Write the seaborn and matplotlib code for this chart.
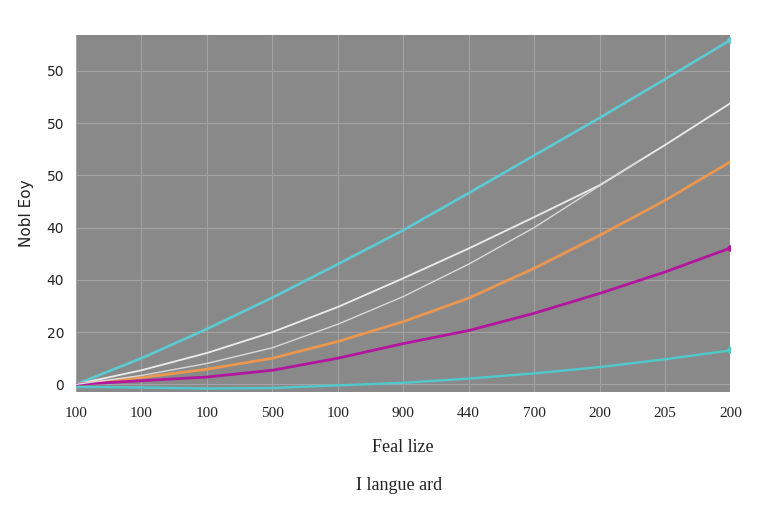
import matplotlib
matplotlib.use('Agg')
import matplotlib.pyplot as plt
import seaborn as sns
import pandas as pd

# values, in tick units
steps = [0, 1, 2, 3, 4, 5, 6, 7, 8, 9, 10]
teal_top = [0.0, 0.5, 1.06, 1.66, 2.3, 2.95, 3.66, 4.38, 5.1, 5.84, 6.59]
white_upper = [0.0, 0.27, 0.6, 1.0, 1.48, 2.03, 2.6, 3.2, 3.81, 4.58, 5.38]
orange = [0.0, 0.13, 0.29, 0.5, 0.82, 1.2, 1.65, 2.22, 2.85, 3.52, 4.26]
magenta = [0.0, 0.07, 0.14, 0.27, 0.5, 0.78, 1.03, 1.36, 1.74, 2.15, 2.61]
teal_low = [-0.05, -0.06, -0.08, -0.07, -0.02, 0.03, 0.11, 0.21, 0.33, 0.48, 0.65]

# the thin white line stops short of the right edge
short_steps = [0, 1, 2, 3, 4, 5, 6, 7, 8, 8.6]
white_lower = [0.0, 0.17, 0.4, 0.7, 1.15, 1.68, 2.3, 3.0, 3.8, 4.27]

x_labels = ["100", "100", "100", "500", "100", "900", "440", "700", "200", "205", "200"]
y_labels = ["0", "20", "40", "40", "50", "50", "50"]

rows = []
for name, ys in [("teal_top", teal_top), ("white_upper", white_upper),
                 ("orange", orange), ("magenta", magenta), ("teal_low", teal_low)]:
    for x, y in zip(steps, ys):
        rows.append([name, x, y])
for x, y in zip(short_steps, white_lower):
    rows.append(["white_lower", x, y])
df = pd.DataFrame(rows, columns=["series", "step", "value"])

palette = {"teal_top": "#5ccbd3", "white_upper": "#ececec", "white_lower": "#d9d9d9",
           "orange": "#eb9750", "magenta": "#b2169e", "teal_low": "#4fc9cb"}
widths = {"teal_top": 1.9, "white_upper": 1.3, "white_lower": 1.0,
          "orange": 2.0, "magenta": 2.0, "teal_low": 1.7}

sns.set_style("darkgrid", {"axes.facecolor": "#898989", "grid.color": "#a3a3a3"})

fig = plt.figure(figsize=(7.68, 5.12), dpi=100)
ax = fig.add_axes([0.099, 0.234, 0.852, 0.698])

sns.lineplot(data=df, x="step", y="value", hue="series", size="series",
             palette=palette, sizes=widths, legend=False, ax=ax, sort=False)

# end dots
for name, ys in [("teal_top", teal_top), ("magenta", magenta), ("teal_low", teal_low)]:
    ax.scatter([steps[-1]], [ys[-1]], s=14, color=palette[name], zorder=5)

ax.set_xlim(0, 10)
ax.set_ylim(-0.15, 6.69)
ax.set_xticks(steps)
ax.set_xticklabels(x_labels, fontfamily="Liberation Serif", fontsize=11)
ax.set_yticks(range(len(y_labels)))
ax.set_yticklabels(y_labels, fontsize=10)
ax.grid(True, linewidth=0.8)
ax.tick_params(axis="both", length=5, width=0.8, color="#b0b0b0", labelcolor="#222222")
ax.tick_params(axis="x", pad=6)
for s in ax.spines.values():
    s.set_visible(False)

ax.set_xlabel("Feal lize", fontfamily="Liberation Serif", fontsize=13, labelpad=13, color="#222222")
ax.set_ylabel("Nobl Eoy", fontsize=11, labelpad=9, color="#222222")
fig.text(0.52, 0.043, "I langue ard", ha="center", fontfamily="Liberation Serif",
         fontsize=13, color="#222222")

fig.savefig("out.png", dpi=100, facecolor="white")
